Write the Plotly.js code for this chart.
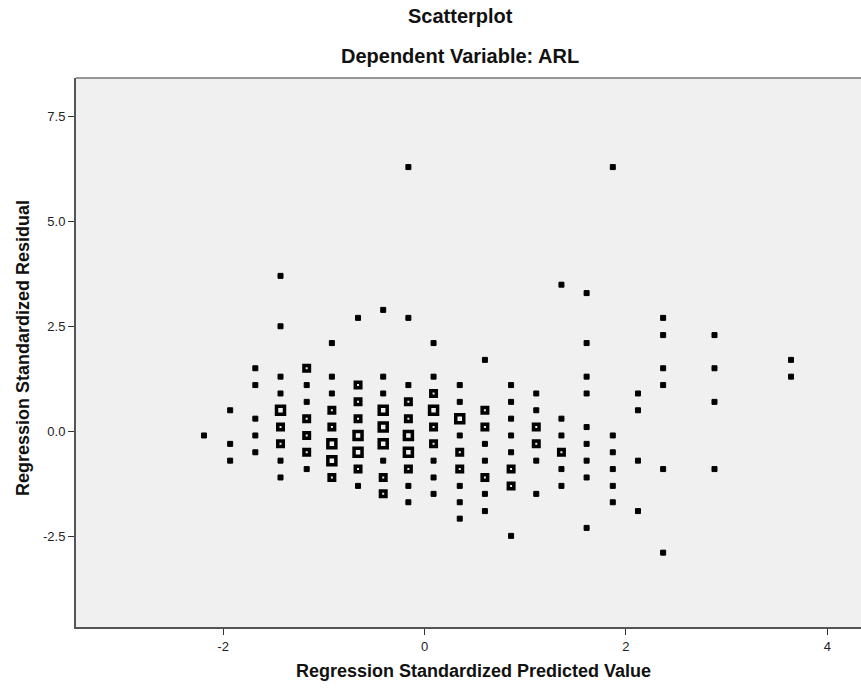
<!DOCTYPE html>
<html>
<head>
<meta charset="utf-8">
<script src="https://cdn.plot.ly/plotly-3.0.1.min.js"></script>
<style>html,body{margin:0;padding:0;background:#fff;}#chart{width:861px;height:688px;}</style>
</head>
<body>
<div id="chart"></div>
<script>
// Regression standardized predicted value (x) for each case
const predicted = [
  -2.19,
  -1.93,-1.93,-1.93,
  -1.68,-1.68,-1.68,-1.68,-1.68,
  -1.43,-1.43,-1.43,-1.43,-1.43,-1.43,-1.43,-1.43,-1.43,
  -1.17,-1.17,-1.17,-1.17,-1.17,-1.17,-1.17,
  -0.92,-0.92,-0.92,-0.92,-0.92,-0.92,-0.92,-0.92,
  -0.66,-0.66,-0.66,-0.66,-0.66,-0.66,-0.66,-0.66,
  -0.41,-0.41,-0.41,-0.41,-0.41,-0.41,-0.41,-0.41,-0.41,
  -0.16,-0.16,-0.16,-0.16,-0.16,-0.16,-0.16,-0.16,-0.16,-0.16,
  0.09,0.09,0.09,0.09,0.09,0.09,0.09,0.09,0.09,
  0.35,0.35,0.35,0.35,0.35,0.35,0.35,0.35,0.35,
  0.60,0.60,0.60,0.60,0.60,0.60,0.60,0.60,
  0.86,0.86,0.86,0.86,0.86,0.86,0.86,0.86,
  1.11,1.11,1.11,1.11,1.11,1.11,
  1.36,1.36,1.36,1.36,1.36,1.36,
  1.61,1.61,1.61,1.61,1.61,1.61,1.61,1.61,1.61,
  1.87,1.87,1.87,1.87,1.87,1.87,
  2.12,2.12,2.12,2.12,
  2.37,2.37,2.37,2.37,2.37,2.37,
  2.88,2.88,2.88,2.88,
  3.64,3.64
];
// Regression standardized residual (y) for each case
const residual = [
  -0.09,
  0.51,-0.29,-0.69,
  1.51,1.11,0.31,-0.09,-0.49,
  3.71,2.51,1.31,0.91,0.51,0.11,-0.29,-0.69,-1.09,
  1.51,1.11,0.71,0.31,-0.09,-0.49,-0.89,
  2.11,1.31,0.91,0.51,0.11,-0.29,-0.69,-1.09,
  2.71,1.11,0.71,0.31,-0.09,-0.49,-0.89,-1.29,
  2.90,1.31,0.91,0.51,0.11,-0.29,-0.69,-1.09,-1.48,
  6.30,2.71,1.11,0.71,0.31,-0.09,-0.49,-0.89,-1.29,-1.68,
  2.11,1.31,0.91,0.51,0.11,-0.29,-0.69,-1.09,-1.48,
  1.11,0.71,0.31,-0.09,-0.49,-0.89,-1.29,-1.68,-2.07,
  1.71,0.51,0.11,-0.29,-0.69,-1.09,-1.48,-1.89,
  1.11,0.71,0.31,-0.09,-0.49,-0.89,-1.29,-2.48,
  0.91,0.51,0.11,-0.29,-0.69,-1.48,
  3.50,0.31,-0.09,-0.49,-0.89,-1.29,
  3.30,2.11,1.31,0.91,0.11,-0.29,-0.69,-1.09,-2.29,
  6.30,-0.09,-0.49,-0.89,-1.29,-1.68,
  0.91,0.51,-0.69,-1.89,
  2.71,2.30,1.51,1.11,-0.89,-2.88,
  2.30,1.51,0.71,-0.89,
  1.71,1.31
];
// Overlap level of each marker (1 = single, 2 = few overlapping, 3 = many overlapping)
const overlap = [
  1,
  1,1,1,
  1,1,1,1,1,
  1,1,1,1,3,2,2,1,1,
  2,1,1,2,2,2,1,
  1,1,1,2,2,3,3,2,
  1,2,2,2,3,3,2,1,
  1,1,1,3,3,3,1,2,2,
  1,1,1,2,2,3,3,2,1,1,
  1,1,2,3,2,2,1,1,1,
  1,1,3,1,2,2,1,1,1,
  1,2,2,1,1,2,1,1,
  1,1,1,1,1,2,2,1,
  1,1,2,2,1,1,
  1,1,1,2,1,1,
  1,1,1,1,1,1,1,1,1,
  1,1,1,1,1,1,
  1,1,1,1,
  1,1,1,1,1,1,
  1,1,1,1,
  1,1
];
const yTickVals = [-2.5, 0, 2.5, 5, 7.5];
const yTickText = ['-2.5', '0.0', '2.5', '5.0', '7.5'];
const xTickVals = [-2, 0, 2, 4];
const xTickText = ['-2', '0', '2', '4'];

const symbolMap = {1: 'square', 2: 'square-open', 3: 'square-open'};
const sizeMap = {1: 5, 2: 5.5, 3: 8};
const lineMap = {1: 1, 2: 3.5, 3: 3.5};

const trace = {
  type: 'scatter',
  mode: 'markers',
  x: predicted,
  y: residual,
  hoverinfo: 'x+y',
  marker: {
    color: '#000',
    opacity: 1,
    symbol: overlap.map(l => symbolMap[l]),
    size: overlap.map(l => sizeMap[l]),
    line: {color: '#000', width: overlap.map(l => lineMap[l])}
  }
};

const F = 'Liberation Sans, Arial, sans-serif';
const L = 76, T = 78, W = 785, H = 549;
const px = x => (x - L) / W;
const py = y => (T + H - y) / H;

const layout = {
  width: 861, height: 688,
  margin: {l: L, r: 861 - L - W, t: T, b: 688 - T - H, pad: 0},
  paper_bgcolor: '#ffffff',
  plot_bgcolor: '#f0f0f0',
  showlegend: false,
  font: {family: F, size: 13, color: '#222'},
  xaxis: {
    range: [-3.461, 4.335],
    tickvals: xTickVals, ticktext: xTickText,
    ticks: 'outside', ticklen: 6, tickwidth: 1, tickcolor: '#333',
    showline: true, linecolor: '#555', linewidth: 2,
    showgrid: false, zeroline: false,
    tickfont: {family: F, size: 13, color: '#222'}
  },
  yaxis: {
    range: [-4.65, 8.421],
    tickvals: yTickVals, ticktext: yTickText,
    ticks: 'outside', ticklen: 6, tickwidth: 1, tickcolor: '#333',
    showline: true, linecolor: '#555', linewidth: 2,
    showgrid: false, zeroline: false,
    tickfont: {family: F, size: 13, color: '#222'}
  },
  shapes: [
    {type: 'line', xref: 'paper', yref: 'paper', x0: 0, x1: 1, y0: 1, y1: 1,
     line: {color: '#777', width: 1.5}}
  ],
  annotations: [
    {text: '<b>Scatterplot</b>', xref: 'paper', yref: 'paper', x: px(460), y: py(16),
     xanchor: 'center', yanchor: 'middle', showarrow: false, font: {family: F, size: 20, color: '#111'}},
    {text: '<b>Dependent Variable: ARL</b>', xref: 'paper', yref: 'paper', x: px(460), y: py(56),
     xanchor: 'center', yanchor: 'middle', showarrow: false, font: {family: F, size: 20, color: '#111'}},
    {text: '<b>Regression Standardized Predicted Value</b>', xref: 'paper', yref: 'paper', x: px(473), y: py(671),
     xanchor: 'center', yanchor: 'middle', showarrow: false, font: {family: F, size: 18, color: '#111'}},
    {text: '<b>Regression Standardized Residual</b>', xref: 'paper', yref: 'paper', x: px(23), y: py(348),
     xanchor: 'center', yanchor: 'middle', textangle: -90, showarrow: false, font: {family: F, size: 18, color: '#111'}}
  ]
};

Plotly.newPlot('chart', [trace], layout, {displayModeBar: false, staticPlot: true});
</script>
</body>
</html>
